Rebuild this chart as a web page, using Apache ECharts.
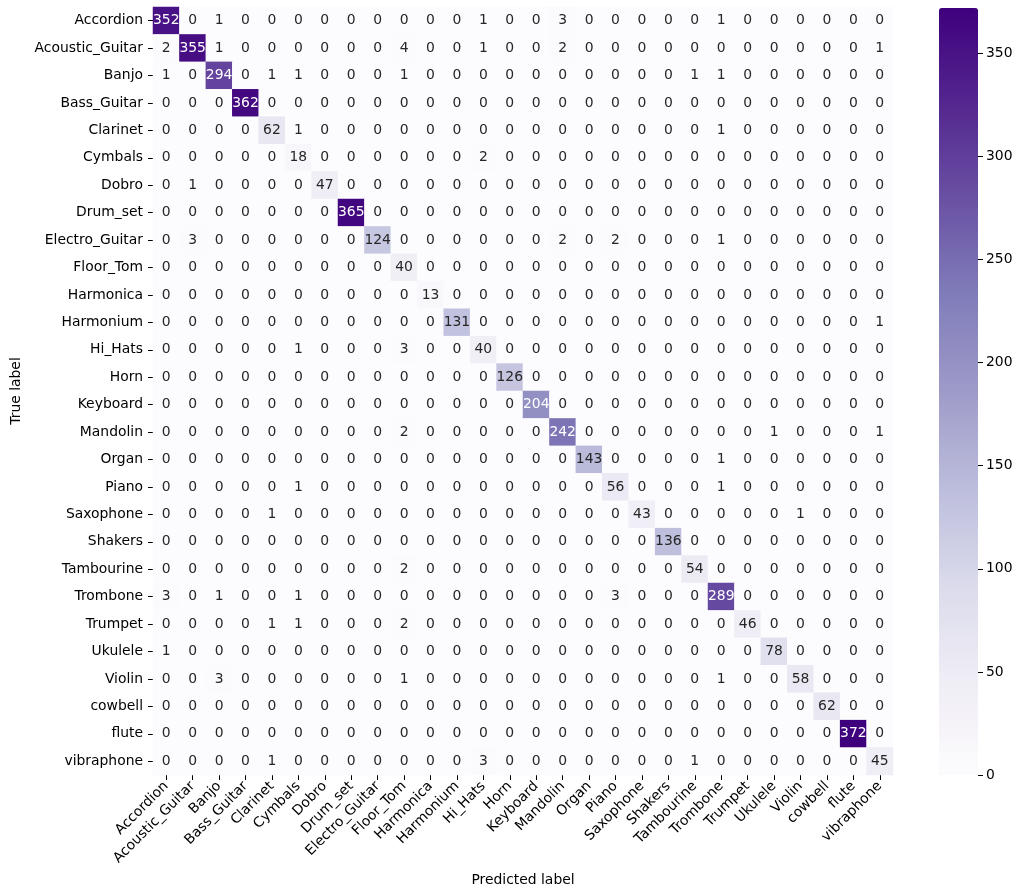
<!DOCTYPE html>
<html>
<head>
<meta charset="utf-8">
<script src="https://cdn.jsdelivr.net/npm/echarts@6/dist/echarts.min.js"></script>
<style>
  html, body { margin: 0; padding: 0; background: #fff; }
  #chart { width: 1024px; height: 892px; }
</style>
</head>
<body>
<div id="chart"></div>
<script>
// class names (same order for rows and columns)
var labels = ['Accordion', 'Acoustic_Guitar', 'Banjo', 'Bass_Guitar', 'Clarinet', 'Cymbals', 'Dobro',
  'Drum_set', 'Electro_Guitar', 'Floor_Tom', 'Harmonica', 'Harmonium', 'Hi_Hats', 'Horn', 'Keyboard',
  'Mandolin', 'Organ', 'Piano', 'Saxophone', 'Shakers', 'Tambourine', 'Trombone', 'Trumpet', 'Ukulele',
  'Violin', 'cowbell', 'flute', 'vibraphone'];

// confusion matrix, rows = true label, cols = predicted label
var counts = [
  [352,0,1,0,0,0,0,0,0,0,0,0,1,0,0,3,0,0,0,0,0,1,0,0,0,0,0,0],
  [2,355,1,0,0,0,0,0,0,4,0,0,1,0,0,2,0,0,0,0,0,0,0,0,0,0,0,1],
  [1,0,294,0,1,1,0,0,0,1,0,0,0,0,0,0,0,0,0,0,1,1,0,0,0,0,0,0],
  [0,0,0,362,0,0,0,0,0,0,0,0,0,0,0,0,0,0,0,0,0,0,0,0,0,0,0,0],
  [0,0,0,0,62,1,0,0,0,0,0,0,0,0,0,0,0,0,0,0,0,1,0,0,0,0,0,0],
  [0,0,0,0,0,18,0,0,0,0,0,0,2,0,0,0,0,0,0,0,0,0,0,0,0,0,0,0],
  [0,1,0,0,0,0,47,0,0,0,0,0,0,0,0,0,0,0,0,0,0,0,0,0,0,0,0,0],
  [0,0,0,0,0,0,0,365,0,0,0,0,0,0,0,0,0,0,0,0,0,0,0,0,0,0,0,0],
  [0,3,0,0,0,0,0,0,124,0,0,0,0,0,0,2,0,2,0,0,0,1,0,0,0,0,0,0],
  [0,0,0,0,0,0,0,0,0,40,0,0,0,0,0,0,0,0,0,0,0,0,0,0,0,0,0,0],
  [0,0,0,0,0,0,0,0,0,0,13,0,0,0,0,0,0,0,0,0,0,0,0,0,0,0,0,0],
  [0,0,0,0,0,0,0,0,0,0,0,131,0,0,0,0,0,0,0,0,0,0,0,0,0,0,0,1],
  [0,0,0,0,0,1,0,0,0,3,0,0,40,0,0,0,0,0,0,0,0,0,0,0,0,0,0,0],
  [0,0,0,0,0,0,0,0,0,0,0,0,0,126,0,0,0,0,0,0,0,0,0,0,0,0,0,0],
  [0,0,0,0,0,0,0,0,0,0,0,0,0,0,204,0,0,0,0,0,0,0,0,0,0,0,0,0],
  [0,0,0,0,0,0,0,0,0,2,0,0,0,0,0,242,0,0,0,0,0,0,0,1,0,0,0,1],
  [0,0,0,0,0,0,0,0,0,0,0,0,0,0,0,0,143,0,0,0,0,1,0,0,0,0,0,0],
  [0,0,0,0,0,1,0,0,0,0,0,0,0,0,0,0,0,56,0,0,0,1,0,0,0,0,0,0],
  [0,0,0,0,1,0,0,0,0,0,0,0,0,0,0,0,0,0,43,0,0,0,0,0,1,0,0,0],
  [0,0,0,0,0,0,0,0,0,0,0,0,0,0,0,0,0,0,0,136,0,0,0,0,0,0,0,0],
  [0,0,0,0,0,0,0,0,0,2,0,0,0,0,0,0,0,0,0,0,54,0,0,0,0,0,0,0],
  [3,0,1,0,0,1,0,0,0,0,0,0,0,0,0,0,0,3,0,0,0,289,0,0,0,0,0,0],
  [0,0,0,0,1,1,0,0,0,2,0,0,0,0,0,0,0,0,0,0,0,0,46,0,0,0,0,0],
  [1,0,0,0,0,0,0,0,0,0,0,0,0,0,0,0,0,0,0,0,0,0,0,78,0,0,0,0],
  [0,0,3,0,0,0,0,0,0,1,0,0,0,0,0,0,0,0,0,0,0,1,0,0,58,0,0,0],
  [0,0,0,0,0,0,0,0,0,0,0,0,0,0,0,0,0,0,0,0,0,0,0,0,0,62,0,0],
  [0,0,0,0,0,0,0,0,0,0,0,0,0,0,0,0,0,0,0,0,0,0,0,0,0,0,372,0],
  [0,0,0,0,1,0,0,0,0,0,0,0,3,0,0,0,0,0,0,0,1,0,0,0,0,0,0,45]
];

var colorbarTicks = [0, 50, 100, 150, 200, 250, 300, 350];

var purples = ['#fcfbfd', '#efedf5', '#dadaeb', '#bcbddc', '#9e9ac8', '#807dba', '#6a51a3', '#54278f', '#3f007d'];
var font = 'DejaVu Sans';
var fs = 13.9;
var vmax = 372;

var cells = [];
for (var i = 0; i < counts.length; i++) {
  for (var j = 0; j < counts[i].length; j++) {
    var v = counts[i][j];
    cells.push({
      value: [j, i, v],
      label: { color: v > 175 ? '#ffffff' : '#262626' }
    });
  }
}

var myChart = echarts.init(document.getElementById('chart'));

var option = {
  backgroundColor: '#ffffff',
  textStyle: { fontFamily: font },
  grid: [
    { left: 153, top: 7, width: 740, height: 768 },
    { left: 939, top: 8, width: 39, height: 767 }
  ],
  xAxis: [
    {
      gridIndex: 0,
      type: 'category',
      data: labels,
      name: 'Predicted label',
      nameLocation: 'middle',
      nameGap: 98,
      nameTextStyle: { fontFamily: font, fontSize: fs, color: '#000' },
      axisLine: { show: false },
      axisTick: { show: true, alignWithLabel: true, length: 5, lineStyle: { color: '#000', width: 1 } },
      axisLabel: { rotate: 45, interval: 0, margin: 9, fontFamily: font, fontSize: fs, color: '#000' },
      splitLine: { show: false }
    },
    {
      gridIndex: 1,
      type: 'category',
      data: [''],
      show: false
    }
  ],
  yAxis: [
    {
      gridIndex: 0,
      type: 'category',
      data: labels,
      inverse: true,
      name: 'True label',
      nameLocation: 'middle',
      nameGap: 122,
      nameTextStyle: { fontFamily: font, fontSize: fs, color: '#000' },
      axisLine: { show: false },
      axisTick: { show: true, alignWithLabel: true, length: 5, lineStyle: { color: '#000', width: 1 } },
      axisLabel: { interval: 0, margin: 10, fontFamily: font, fontSize: fs, color: '#000' },
      splitLine: { show: false }
    },
    {
      gridIndex: 1,
      type: 'value',
      position: 'right',
      min: 0,
      max: vmax,
      interval: 50,
      axisLine: { show: false, onZero: false },
      axisTick: { show: true, length: 5, customValues: colorbarTicks, lineStyle: { color: '#000', width: 1 } },
      axisLabel: { margin: 8, customValues: colorbarTicks, fontFamily: font, fontSize: fs, color: '#000' },
      splitLine: { show: false }
    }
  ],
  visualMap: {
    type: 'continuous',
    seriesIndex: 0,
    min: 0,
    max: vmax,
    calculable: false,
    hoverLink: false,
    orient: 'vertical',
    left: 939,
    top: 8,
    padding: 0,
    itemWidth: 39,
    itemHeight: 767,
    text: ['', ''],
    textGap: 0,
    inRange: { color: purples }
  },
  series: [
    {
      type: 'heatmap',
      xAxisIndex: 0,
      yAxisIndex: 0,
      data: cells,
      label: { show: true, fontFamily: font, fontSize: fs },
      itemStyle: { borderWidth: 0 },
      emphasis: { disabled: true }
    },
    {
      type: 'scatter',
      xAxisIndex: 1,
      yAxisIndex: 1,
      data: [],
      silent: true
    }
  ]
};

myChart.setOption(option);
</script>
</body>
</html>
